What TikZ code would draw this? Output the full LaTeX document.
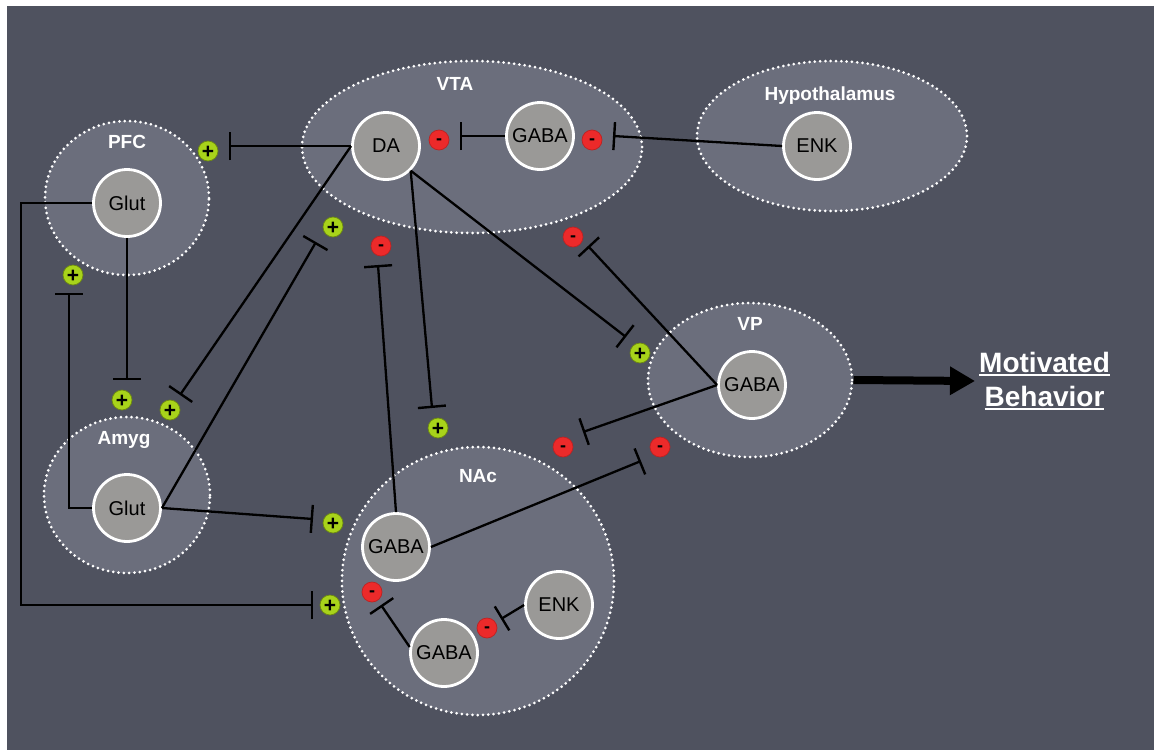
\documentclass[tikz,border=0pt]{standalone}
\usepackage{fontspec}
\setmainfont{Liberation Sans}
\newsavebox{\myulbox}
\newcommand{\myuline}[1]{\sbox{\myulbox}{#1}\rlap{\rule[-3.5pt]{\wd\myulbox}{2pt}}\usebox{\myulbox}}
\usetikzlibrary{shapes.geometric,arrows.meta}
\definecolor{bgc}{HTML}{4F525F}
\definecolor{regc}{HTML}{6B6E7C}
\definecolor{cellc}{HTML}{9A9997}
\definecolor{grn}{HTML}{A8D31A}
\definecolor{rd}{HTML}{EC2A2A}
\begin{document}
\begin{tikzpicture}[x=1pt,y=-1pt,
  region/.style={ellipse, fill=regc, draw=white, line width=3pt, dash pattern=on 0pt off 5.3pt, line cap=round, inner sep=0pt},
  cell/.style={circle, fill=cellc, draw=white, line width=2.8pt, minimum size=67pt, inner sep=0pt, text=black, font=\fontsize{20}{22}\selectfont},
  rlabel/.style={text=white, anchor=base, inner sep=0pt, font=\bfseries\fontsize{19}{22}\selectfont},
  plusb/.style={circle, fill=grn, draw=grn!65!black, line width=0.7pt, minimum size=20pt, inner sep=0pt, text height=14.8pt, text depth=0pt, font=\bfseries\fontsize{21}{21}\selectfont},
  minusb/.style={circle, fill=rd, draw=rd!80!black, line width=0.7pt, minimum size=20pt, inner sep=0pt, text height=9.4pt, text depth=0pt, font=\bfseries\fontsize{18}{18}\selectfont},
  inh/.style={line width=2.3pt, draw=black, -{Bar[width=28pt,line width=2.4pt]}},
  ]
\useasboundingbox (0,0) rectangle (1154,750);
\fill[white] (0,0) rectangle (1154,750);
\fill[bgc] (7,6) rectangle (1154,750);

% regions
\node[region, minimum width=164pt, minimum height=154pt] (PFC) at (127,198) {};
\node[region, minimum width=340pt, minimum height=172pt] (VTA) at (472,147) {};
\node[region, minimum width=270pt, minimum height=150pt] (HYP) at (832,136) {};
\node[region, minimum width=166pt, minimum height=156pt] (AMY) at (127,495) {};
\node[region, minimum width=272pt, minimum height=268pt] (NAC) at (478,581) {};
\node[region, minimum width=204pt, minimum height=154pt] (VP) at (750,380) {};

% region labels
\node[rlabel] (lPFC) at (127,148) {PFC};
\node[rlabel] (lVTA) at (455,90) {VTA};
\node[rlabel] (lHYP) at (830,100) {Hypothalamus};
\node[rlabel] (lAMY) at (124,444) {Amyg};
\node[rlabel] (lNAC) at (478,482) {NAc};
\node[rlabel] (lVP) at (750,330) {VP};

% end points of connectors
\coordinate (tPFC) at (229,146);
\coordinate (tAm2) at (180,395);
\coordinate (tVTA1) at (316,242);
\coordinate (tAm1) at (127,380);
\coordinate (tPFC2) at (69,293);
\coordinate (tNAc1) at (313,519);
\coordinate (cL) at (21,203);
\coordinate (tNAc2) at (313,605);
\coordinate (tVTA2) at (378,265);
\coordinate (tNAc3) at (432,408);
\coordinate (tVP1) at (626,337);
\coordinate (tVTA3) at (588,246);
\coordinate (tNAc4) at (583,432);
\coordinate (tVP2) at (641,461);
\coordinate (tDA) at (460,136);
\coordinate (tGV) at (613,136);
\coordinate (tGN1) at (381,605);
\coordinate (tGN2) at (501,619);
\coordinate (aTip) at (975,381);

% cells
\node[cell] (gP) at (127,203) {Glut};
\node[cell] (DA) at (386,146) {DA};
\node[cell] (gV) at (540,136) {GABA};
\node[cell] (eH) at (817,146) {ENK};
\node[cell] (gA) at (127,508) {Glut};
\node[cell] (gN1) at (396,547) {GABA};
\node[cell] (gN2) at (444,653) {GABA};
\node[cell] (eN) at (559,605) {ENK};
\node[cell] (gVP) at (752,385) {GABA};

% connectors
\draw[inh] (DA.west) -- (tPFC);
\draw[inh] (DA.west) -- (tAm2);
\draw[inh] (gA.east) -- (tVTA1);
\draw[inh] (gP.south) -- (tAm1);
\draw[inh] (gA.west) -| (tPFC2);
\draw[inh] (gA.east) -- (tNAc1);
\draw[inh] (gP.west) -- (cL) |- (tNAc2);
\draw[inh] (gN1.north) -- (tVTA2);
\draw[inh] (DA.south east) -- (tNAc3);
\draw[inh] (DA.south east) -- (tVP1);
\draw[inh] (gVP.west) -- (tVTA3);
\draw[inh] (gVP.west) -- (tNAc4);
\draw[inh] (gN1.east) -- (tVP2);
\draw[inh] (gV.west) -- (tDA);
\draw[inh] (eH.west) -- (tGV);
\draw[inh] (gN2.170) -- (tGN1);
\draw[inh] (eN.west) -- (tGN2);

% output arrow
\draw[line width=8pt, -{Triangle[length=25pt,width=27pt]}] (VP.east) -- (aTip);
\node[text=white, font=\bfseries\fontsize{28}{34}\selectfont, align=center, anchor=west, inner sep=0pt] (mb) at (979,381) {\myuline{Motivated}\\\myuline{Behavior}};

% badges
\node[plusb] (p1) at (208,151) {+};
\node[plusb] (p2) at (333,227) {+};
\node[minusb] (m1) at (381,246) {-};
\node[minusb] (m2) at (439,140) {-};
\node[minusb] (m3) at (592,140) {-};
\node[minusb] (m4) at (573,237) {-};
\node[plusb] (p3) at (73,275) {+};
\node[plusb] (p4) at (122,400) {+};
\node[plusb] (p5) at (170,410) {+};
\node[plusb] (p6) at (438,428) {+};
\node[plusb] (p7) at (640,353) {+};
\node[minusb] (m5) at (563,447) {-};
\node[minusb] (m6) at (660,447) {-};
\node[plusb] (p8) at (333,523) {+};
\node[plusb] (p9) at (330,605) {+};
\node[minusb] (m7) at (372,592) {-};
\node[minusb] (m8) at (487,628) {-};
\end{tikzpicture}
\end{document}
